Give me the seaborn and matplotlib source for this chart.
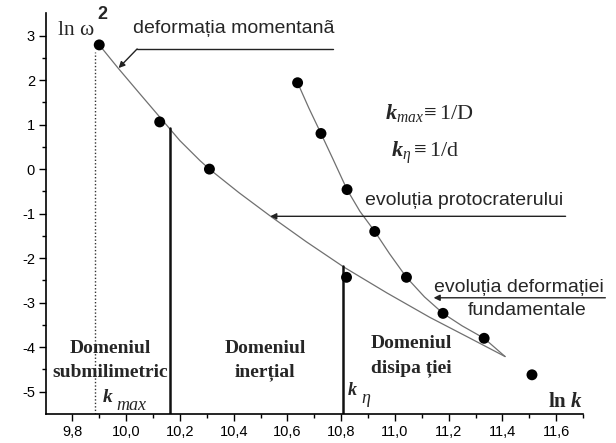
import matplotlib
matplotlib.use("Agg")
import matplotlib.pyplot as plt
import seaborn as sns
import pandas as pd

# -------------------------------
# data
# -------------------------------
# measured points, left family ("deformatia momentana")
pts_left_x = [9.90, 10.125, 10.31, 10.82, 11.51]
pts_left_y = [2.79, 1.06, 0.0, -2.43, -4.62]

# measured points, right family ("evolutia deformatiei fundamentale")
pts_right_x = [10.638, 10.725, 10.822, 10.925, 11.043, 11.179, 11.332]
pts_right_y = [1.94, 0.80, -0.46, -1.40, -2.43, -3.24, -3.80]

# fitted curves (traced)
curve_left_x = [9.90, 9.97, 10.05, 10.125, 10.20, 10.275, 10.31, 10.42, 10.54,
                10.67, 10.81, 10.97, 11.13, 11.28, 11.41]
curve_left_y = [2.79, 2.27, 1.70, 1.17, 0.64, 0.19, 0.0, -0.53, -1.07,
                -1.63, -2.20, -2.78, -3.33, -3.80, -4.21]
curve_right_x = [10.638, 10.68, 10.725, 10.77, 10.822, 10.87, 10.925, 10.98,
                 11.043, 11.11, 11.179, 11.25, 11.332, 11.41]
curve_right_y = [1.94, 1.37, 0.80, 0.22, -0.46, -0.95, -1.40, -1.90,
                 -2.43, -2.87, -3.24, -3.52, -3.80, -4.21]

# domain boundaries
k_max_line = 9.883
k_max_top = 2.62
k_inert = 10.163
k_inert_top = 0.92
k_eta = 10.807
k_eta_top = -2.18

x_ticks = [9.8, 10.0, 10.2, 10.4, 10.6, 10.8, 11.0, 11.2, 11.4, 11.6]
y_ticks = [-5, -4, -3, -2, -1, 0, 1, 2, 3]

# -------------------------------
# style
# -------------------------------
sns.set_theme(style="ticks")
plt.rcParams["font.family"] = ["Liberation Sans", "DejaVu Sans"]
plt.rcParams["axes.unicode_minus"] = False
plt.rcParams["mathtext.fontset"] = "custom"
plt.rcParams["mathtext.rm"] = "Liberation Serif"
plt.rcParams["mathtext.it"] = "Liberation Serif:italic"
plt.rcParams["mathtext.bf"] = "Liberation Serif:bold"
plt.rcParams["mathtext.bfit"] = "Liberation Serif:italic:bold"

fig = plt.figure(figsize=(6.16, 4.43), dpi=100)
ax = fig.add_axes([0.0747, 0.0655, 0.8718, 0.9045])

curve_col = "#707070"
sns.lineplot(x=curve_left_x, y=curve_left_y, sort=False, estimator=None,
             color=curve_col, lw=0.9, ax=ax)
sns.lineplot(x=curve_right_x, y=curve_right_y, sort=False, estimator=None,
             color=curve_col, lw=0.9, ax=ax)

pts = pd.DataFrame({"x": pts_left_x + pts_right_x, "y": pts_left_y + pts_right_y})
sns.scatterplot(data=pts, x="x", y="y", color="black", s=62, edgecolor="none",
                ax=ax, zorder=5)

# vertical boundary lines
ax.plot([k_max_line, k_max_line], [-5.5, k_max_top], ls=(0, (1, 1.5)),
        color="#333333", lw=1)
ax.plot([k_inert, k_inert], [-5.5, k_inert_top], color="#111111", lw=1.8)
ax.plot([k_eta, k_eta], [-5.5, k_eta_top], color="#111111", lw=1.8)

ax.set_xlim(9.702, 11.70)
ax.set_ylim(-5.5, 3.5)
ax.set_xticks(x_ticks)
ax.set_xticklabels([f"{v:.1f}".replace(".", ",") for v in x_ticks])
ax.set_yticks(y_ticks)
ax.set_yticklabels([str(v) for v in y_ticks])
ax.set_xticks([v + 0.1 for v in [9.7] + x_ticks], minor=True)
ax.set_yticks([v + 0.5 for v in [-5.5] + y_ticks][:-1], minor=True)
ax.tick_params(which="major", length=5, width=1, labelsize=10.5, pad=3,
               color="black", labelcolor="black")
ax.tick_params(which="minor", length=3, width=1, color="black")
ax.set_xlabel("")
ax.set_ylabel("")
sns.despine(ax=ax)
for s in ["left", "bottom"]:
    ax.spines[s].set_linewidth(1.2)
    ax.spines[s].set_color("black")

# -------------------------------
# annotations
# -------------------------------
serif = "Liberation Serif"
ax.text(9.747, 3.02, "ln ω", family=serif, fontsize=15.5, va="baseline")
ax.text(9.892, 3.38, "2", fontweight="bold", fontsize=13, va="baseline")

ax.text(10.025, 3.06, "deformația momentanã", fontsize=14, va="baseline")
ax.plot([10.041, 10.77], [2.70, 2.70], color="#222222", lw=1)
ax.annotate("", xy=(9.972, 2.27), xytext=(10.041, 2.70),
            arrowprops=dict(arrowstyle="-|>", color="#222222", lw=1,
                            mutation_scale=9, shrinkA=0, shrinkB=0))

ax.text(10.964, 1.13, r"$\mathbfit{k}_{\mathit{max}}\!\equiv 1/\mathrm{D}$",
        fontsize=16, va="baseline")
ax.text(10.986, 0.28, r"$\mathbfit{k}_{\eta}\equiv 1/\mathrm{d}$",
        fontsize=16, va="baseline")

ax.text(10.89, -0.80, "evoluția protocraterului", fontsize=14, va="baseline")
ax.annotate("", xy=(10.536, -1.06), xytext=(11.635, -1.06),
            arrowprops=dict(arrowstyle="-|>", color="#222222", lw=1,
                            mutation_scale=9, shrinkA=0, shrinkB=0))

ax.text(11.147, -2.76, "evoluția deformației", fontsize=14, va="baseline")
ax.text(11.493, -3.27, "fundamentale", fontsize=14, va="baseline", ha="center")
ax.annotate("", xy=(11.144, -2.89), xytext=(11.783, -2.89),
            arrowprops=dict(arrowstyle="-|>", color="#222222", lw=1,
                            mutation_scale=9, shrinkA=0, shrinkB=0),
            annotation_clip=False)

bold = dict(family=serif, fontweight="bold", fontsize=14, va="baseline")
ax.text(9.94, -4.12, "Domeniul", ha="center", **bold)
ax.text(9.94, -4.66, "submilimetric", ha="center", **bold)
ax.text(10.517, -4.12, "Domeniul", ha="center", **bold)
ax.text(10.517, -4.66, "inerțial", ha="center", **bold)
ax.text(10.911, -4.02, "Domeniul", ha="left", **bold)
ax.text(10.911, -4.57, "disipa ției", ha="left", **bold)

ax.text(9.914, -5.23, "k", family=serif, fontstyle="italic", fontweight="bold",
        fontsize=14, va="baseline")
ax.text(9.963, -5.41, "max", family=serif, fontstyle="italic", fontsize=13,
        va="baseline")
ax.text(10.826, -5.07, "k", family=serif, fontstyle="italic", fontweight="bold",
        fontsize=13, va="baseline")
ax.text(10.875, -5.25, "η", family=serif, fontstyle="italic", fontsize=13,
        va="baseline")
ax.text(11.70, -5.34, r"$\mathbf{ln}\ \mathbfit{k}$", fontsize=15,
        va="baseline", ha="right")

plt.savefig("out.png", dpi=100)
plt.close()
